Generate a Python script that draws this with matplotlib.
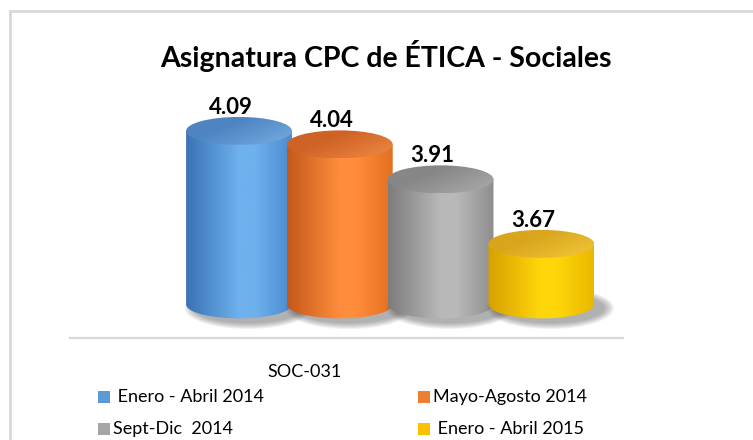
import numpy as np
import matplotlib.pyplot as plt
from matplotlib.patches import Ellipse, Rectangle, PathPatch
from matplotlib.path import Path
from matplotlib.colors import to_rgb

# datos del grafico
periodos = [" Enero - Abril 2014", "Mayo-Agosto 2014", "Sept-Dic  2014", " Enero - Abril 2015"]
valores = [4.09, 4.04, 3.91, 3.67]
categoria = "SOC-031"
titulo = "Asignatura CPC de ÉTICA - Sociales"

# estilo de cada cilindro: (borde izq, brillo, borde der, tapa oscura, tapa clara, leyenda)
estilos = [
    ("#3a72b4", "#6db1ee", "#4a8ccf", "#4f84c2", "#76aee2", "#5b9bd5"),
    ("#c4581a", "#ff8d3c", "#e2701f", "#cf6225", "#f08a45", "#ed7d31"),
    ("#7c7c7c", "#b9b9b9", "#8e8e8e", "#878787", "#acacac", "#a5a5a5"),
    ("#d6a000", "#ffd60a", "#eab800", "#d9a51c", "#f3c83a", "#ffc000"),
]

W, H = 753, 440
plt.rcParams['font.family'] = ['Lato', 'DejaVu Sans']

fig = plt.figure(figsize=(W / 100, H / 100), dpi=100)
ax = fig.add_axes([70 / W, (H - 338) / H, 553 / W, 238 / H])

base = 3.445      # base de los cilindros
ancho = 1.05      # ancho del cilindro
alto_elipse = 0.104


def degradado(cols, pos, n=200):
    rgb = np.array([to_rgb(c) for c in cols])
    t = np.linspace(0, 1, n)
    return np.stack([np.interp(t, pos, rgb[:, k]) for k in range(3)], axis=-1)


for i, (v, st) in enumerate(zip(valores, estilos)):
    x0, x1 = i - ancho / 2, i + ancho / 2
    z = 2 + i * 3

    # sombra
    for k in range(8):
        sh = Ellipse((i + 0.09, base - 0.014), ancho * (1.2 - k * 0.025),
                     alto_elipse * (1.5 - k * 0.06), color="#3a3a3a",
                     alpha=0.06, lw=0, zorder=z - 1)
        ax.add_patch(sh)

    # cuerpo
    th = np.linspace(np.pi, 2 * np.pi, 60)
    arco = np.column_stack([i + ancho / 2 * np.cos(th), base + alto_elipse / 2 * np.sin(th)])
    verts = np.vstack([[x0, v], arco, [x1, v], [x0, v]])
    cuerpo = PathPatch(Path(verts), facecolor="none", lw=0)
    ax.add_patch(cuerpo)
    grad = degradado([st[0], st[1], st[1], st[2]], [0, 0.5, 0.65, 1])
    im = ax.imshow(grad[np.newaxis, :, :], extent=[x0, x1, base - alto_elipse, v],
                   aspect='auto', zorder=z, interpolation='bilinear')
    im.set_clip_path(cuerpo)

    # tapa
    tapa = Ellipse((i, v), ancho, alto_elipse, facecolor="none", lw=0)
    ax.add_patch(tapa)
    g2 = degradado([st[3], st[3], st[4]], [0, 0.35, 1], n=100)
    yy, xx = np.mgrid[0:1:60j, 0:1:100j]
    mezcla = np.clip(0.6 * xx + 0.4 * yy, 0, 1)
    tex = g2[(mezcla * 99).astype(int)]
    im2 = ax.imshow(tex, extent=[x0, x1, v - alto_elipse / 2, v + alto_elipse / 2],
                    aspect='auto', zorder=z + 1, interpolation='bilinear')
    im2.set_clip_path(tapa)

    # etiqueta de valor
    ax.text(i - 0.08, v + alto_elipse / 2 + 0.012, f"{v:.2f}", ha='center',
            va='baseline', fontsize=16, fontweight='bold', color="#000000", zorder=20)

ax.set_xlim(-1.677, 3.81)
ax.set_ylim(3.32, 4.205)
ax.set_xticks([])
ax.set_yticks([])
for s in ['top', 'left', 'right']:
    ax.spines[s].set_visible(False)
ax.spines['bottom'].set_color("#d9d9d9")
ax.spines['bottom'].set_linewidth(1.6)
ax.patch.set_alpha(0)

# marco del grafico
fig.add_artist(Rectangle((9.5 / W, -0.05), 1.1, (H - 11.5) / H + 0.05,
                         transform=fig.transFigure, fill=False,
                         edgecolor="#d9d9d9", lw=2))

fig.text(386 / W, (H - 56) / H, titulo, ha='center', va='center',
         fontsize=20.5, fontweight='bold', color="#000000")
fig.text(305 / W, (H - 372) / H, categoria, ha='center', va='center',
         fontsize=13, color="#000000")

# leyenda
for j, (lab, st) in enumerate(zip(periodos, estilos)):
    fila, col = divmod(j, 2)
    xm = 98 if col == 0 else 418
    yc = 397 if fila == 0 else 429
    fig.add_artist(Rectangle((xm / W, (H - yc - 6) / H), 12 / W, 12 / H,
                             transform=fig.transFigure, facecolor=st[5], lw=0))
    fig.text((xm + 15) / W, (H - yc) / H, lab, ha='left', va='center',
             fontsize=13, color="#000000")

fig.savefig("out.png", dpi=100)
